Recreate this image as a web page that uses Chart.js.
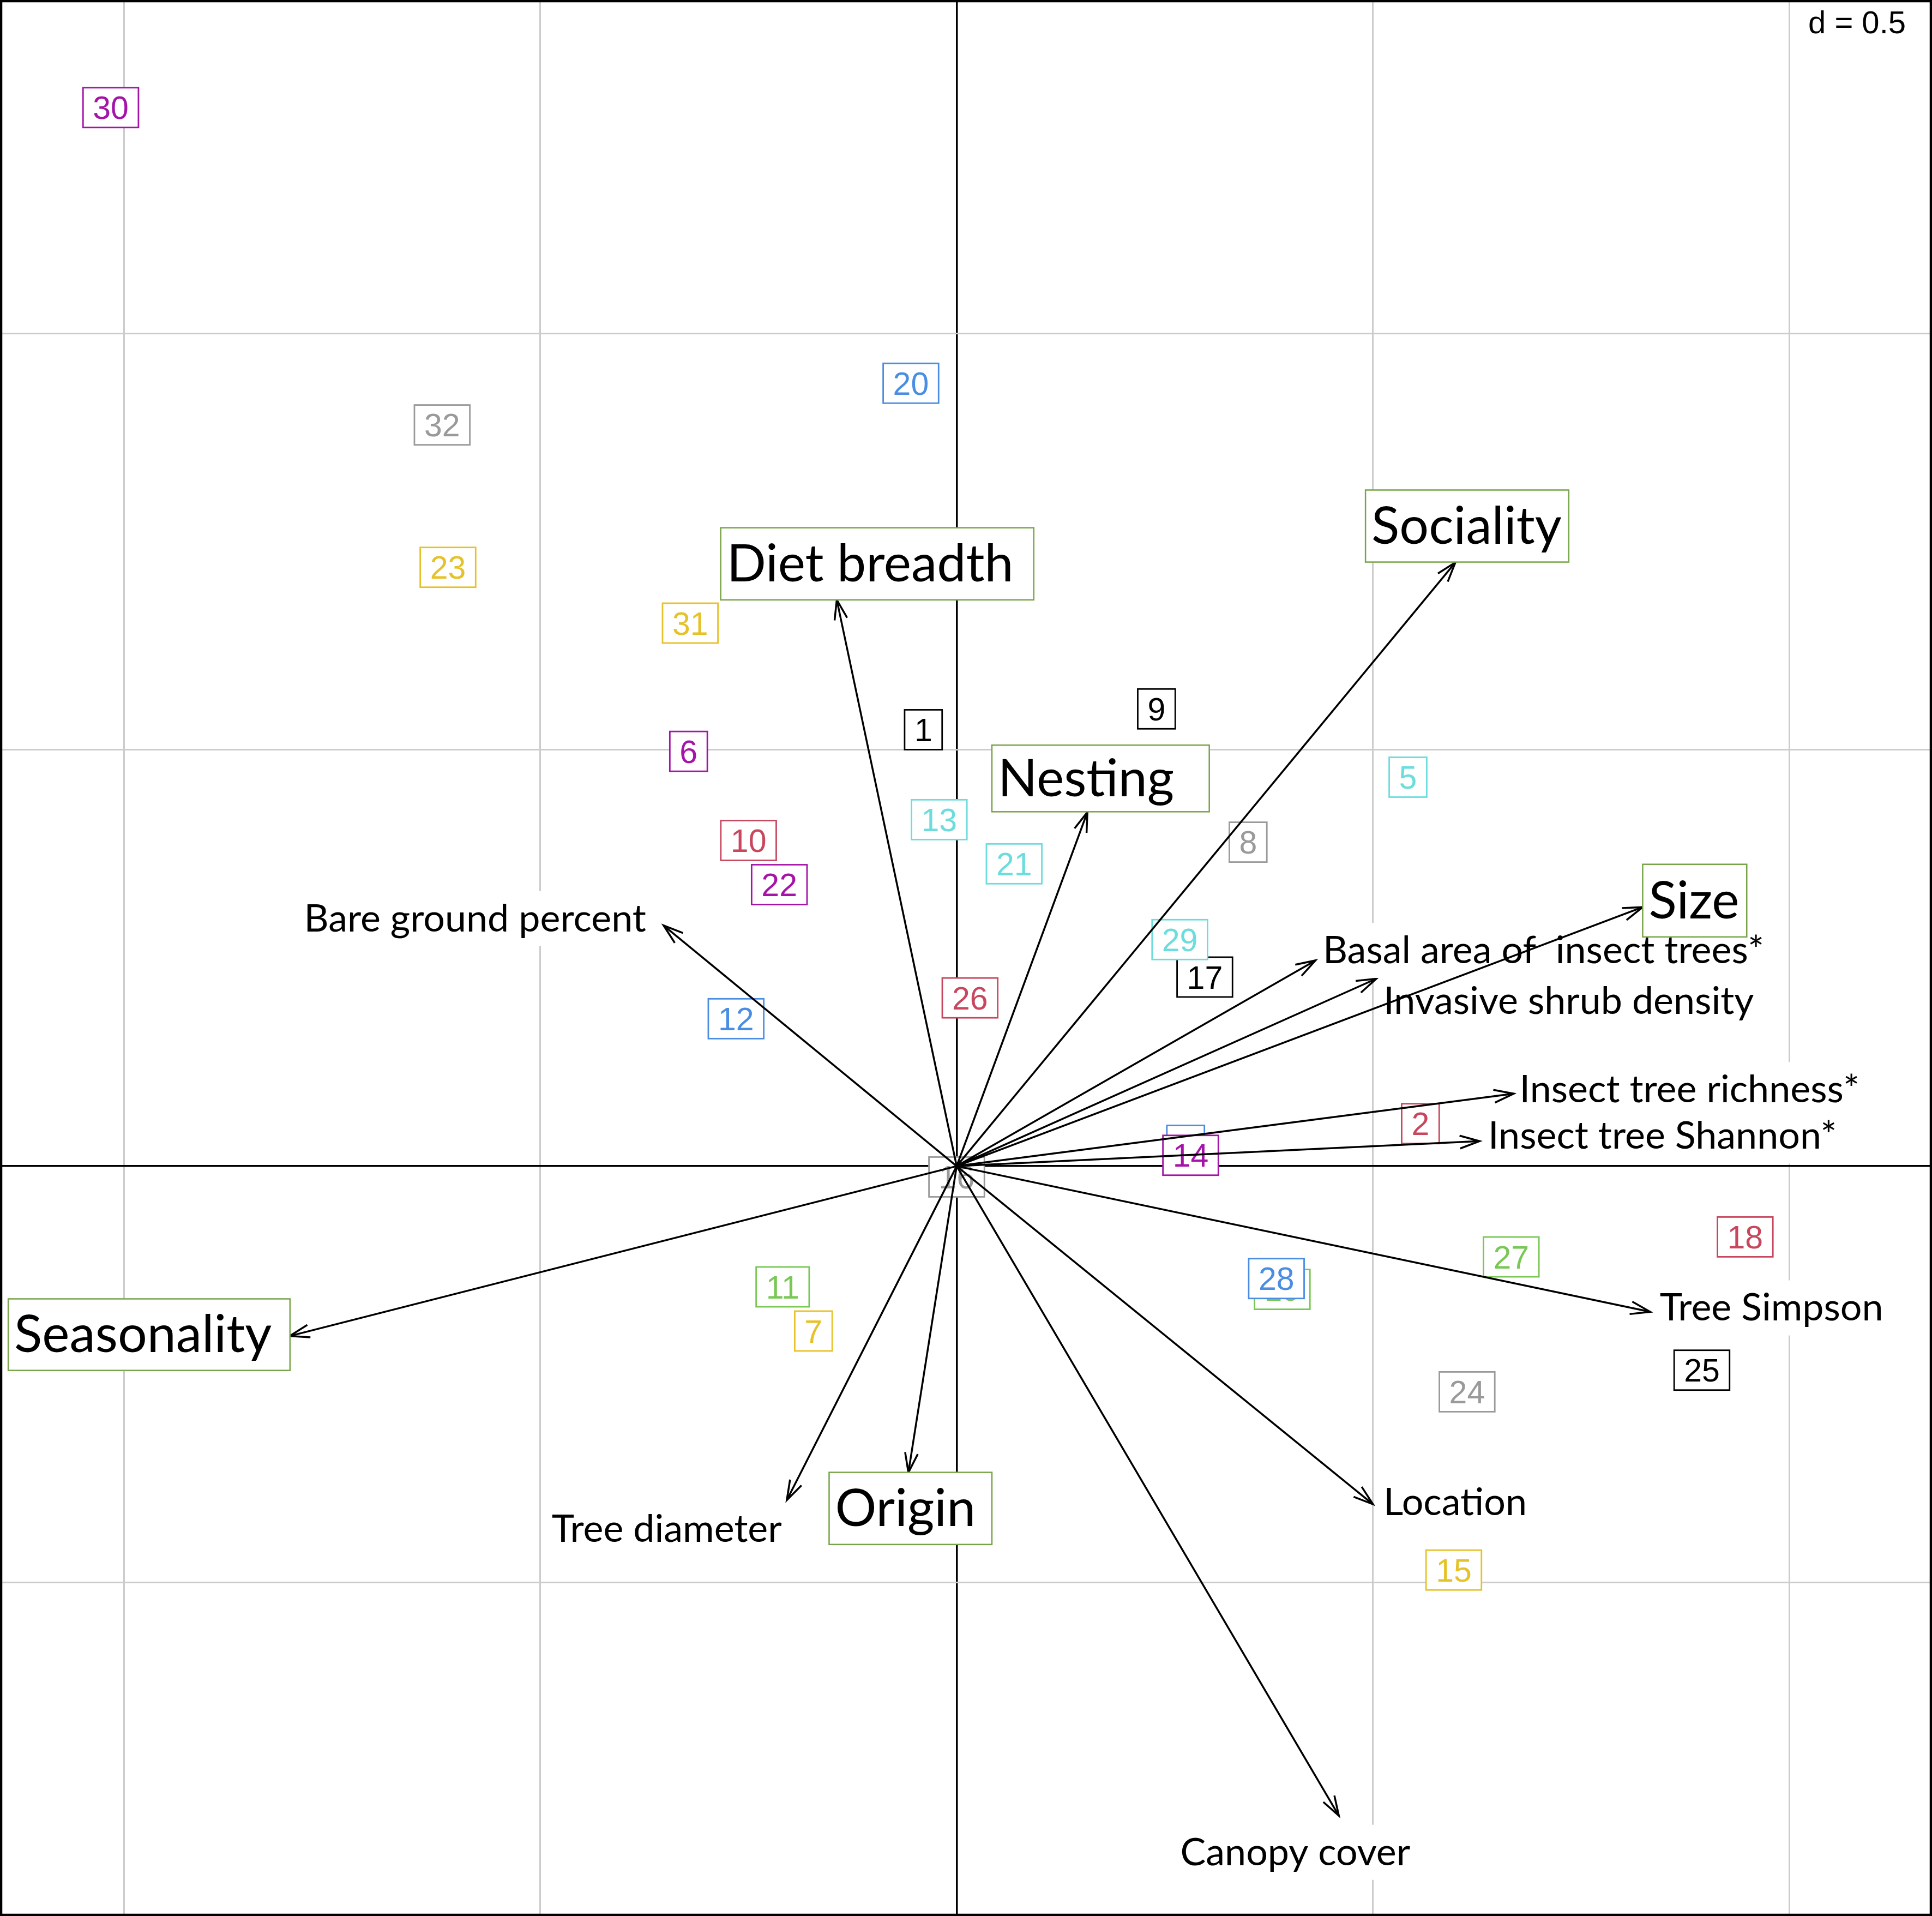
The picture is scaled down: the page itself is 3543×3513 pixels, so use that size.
<!DOCTYPE html>
<html>
<head>
<meta charset="utf-8">
<script src="https://cdn.jsdelivr.net/npm/chart.js@4.4.1/dist/chart.umd.min.js"></script>
<style>
  html, body { margin: 0; padding: 0; background: #fff; }
  #wrap { width: 3543px; height: 3513px; position: relative; }
</style>
</head>
<body>
<div id="wrap"><canvas id="biplot"></canvas></div>
<script>
// site scores on axis 1 / axis 2
const siteIds = [1, 2, 3, 4, 5, 6, 7, 8, 9, 10, 11, 12, 13, 14, 15, 16,
                 17, 18, 19, 20, 21, 22, 23, 24, 25, 26, 27, 28, 29, 30, 31, 32];
const siteX = [-0.040, 0.557, 0.384, 0.275, 0.542, -0.322, -0.172, 0.350, 0.240, -0.250, -0.209, -0.265, -0.021, 0.281, 0.597, 0.000,
               0.298, 0.947, 0.391, -0.055, 0.069, -0.213, -0.611, 0.613, 0.895, 0.016, 0.666, 0.384, 0.268, -1.016, -0.320, -0.618];
const siteY = [0.524, 0.051, -0.135, 0.025, 0.467, 0.498, -0.198, 0.389, 0.549, 0.391, -0.145, 0.177, 0.416, 0.013, -0.485, -0.013,
               0.227, -0.085, -0.148, 0.940, 0.363, 0.338, 0.719, -0.271, -0.245, 0.202, -0.109, -0.135, 0.272, 1.271, 0.652, 0.890];

// environmental variables (arrow tips)
const envNames = ['Bare ground percent', 'Tree diameter', 'Canopy cover', 'Location', 'Tree Simpson',
                  'Insect tree Shannon*', 'Insect tree richness*', 'Invasive shrub density', 'Basal area of  insect trees*'];
const envX = [-0.352, -0.204, 0.459, 0.500, 0.833, 0.628, 0.669, 0.504, 0.431];
const envY = [0.289, -0.401, -0.780, -0.406, -0.175, 0.030, 0.087, 0.225, 0.247];

// trait variables (arrow tips)
const traitNames = ['Diet breadth', 'Sociality', 'Nesting', 'Size', 'Seasonality', 'Origin'];
const traitX = [-0.144, 0.599, 0.157, 0.824, -0.801, -0.058];
const traitY = [0.680, 0.725, 0.425, 0.311, -0.204, -0.368];

const gridStep = 0.5;

// ---- label placement (data units) and styling ----
const envLabelPos = [
  {x: -0.373, y: 0.2975, align: 'right'},
  {x: -0.210, y: -0.4353, align: 'right'},
  {x: 0.4067, y: -0.8236, align: 'center'},
  {x: 0.5127, y: -0.4034, align: 'left'},
  {x: 0.8444, y: -0.1699, align: 'left'},
  {x: 0.6383, y: 0.0364, align: 'left'},
  {x: 0.6760, y: 0.0922, align: 'left'},
  {x: 0.5127, y: 0.1984, align: 'left'},
  {x: 0.4398, y: 0.2594, align: 'left'}
];
// [left, right, top, bottom]
const traitBox = [
  [-0.2834, 0.0926, 0.7665, 0.6799],
  [0.4910, 0.7344, 0.8118, 0.7253],
  [0.0423, 0.3034, 0.5055, 0.4255],
  [0.8239, 0.9489, 0.3624, 0.2752],
  [-1.1391, -0.8007, -0.1594, -0.2453],
  [-0.1532, 0.0423, -0.3677, -0.4543]
];

const sitePalette = ['#000000', '#C8475E', '#79C855', '#4A8DE2', '#6CDCDC', '#A514A8', '#E6C22A', '#9A9A9A'];
const siteFont = 59;
const envFont = 70;
const traitFont = 95;
const labelFamily = 'Lato, "Open Sans", sans-serif';
const numFamily = '"Liberation Sans", Arial, sans-serif';
const arrowWidth = 3.5;

function arrowData(xs, ys) {
  return xs.flatMap((x, i) => [{x: 0, y: 0}, {x: x, y: ys[i]}, {x: NaN, y: NaN}]);
}

function drawHead(ctx, x0, y0, x1, y1) {
  const len = 38, ang = 18 * Math.PI / 180;
  const a = Math.atan2(y0 - y1, x0 - x1);
  ctx.beginPath();
  ctx.moveTo(x1 + len * Math.cos(a + ang), y1 + len * Math.sin(a + ang));
  ctx.lineTo(x1, y1);
  ctx.lineTo(x1 + len * Math.cos(a - ang), y1 + len * Math.sin(a - ang));
  ctx.stroke();
}

const labelPlugin = {
  id: 'ordLabels',
  afterDatasetDraw(chart, args) {
    const ds = chart.data.datasets[args.index];
    const meta = args.meta;
    const ctx = chart.ctx;
    const sx = chart.scales.x, sy = chart.scales.y;
    ctx.save();
    if (ds.role === 'sites') {
      ctx.font = siteFont + 'px ' + numFamily;
      ctx.textAlign = 'center';
      ctx.textBaseline = 'alphabetic';
      ctx.lineWidth = 2.8;
      meta.data.forEach((pt, i) => {
        const txt = String(siteIds[i]);
        const col = sitePalette[(siteIds[i] - 1) % sitePalette.length];
        const w = ctx.measureText(txt).width + 36;
        const h = 73;
        ctx.fillStyle = '#fff';
        ctx.fillRect(pt.x - w / 2, pt.y - h / 2, w, h);
        ctx.strokeStyle = col;
        ctx.strokeRect(pt.x - w / 2, pt.y - h / 2, w, h);
        ctx.fillStyle = col;
        ctx.fillText(txt, pt.x, pt.y + 0.358 * siteFont);
      });
    } else if (ds.role === 'env' || ds.role === 'trait') {
      const ox = sx.getPixelForValue(0), oy = sy.getPixelForValue(0);
      ctx.strokeStyle = '#000';
      ctx.lineWidth = arrowWidth;
      ds.names.forEach((n, i) => {
        const tip = meta.data[3 * i + 1];
        drawHead(ctx, ox, oy, tip.x, tip.y);
      });
      if (ds.role === 'env') {
        ctx.font = envFont + 'px ' + labelFamily;
        ctx.textBaseline = 'alphabetic';
        ds.names.forEach((n, i) => {
          const p = envLabelPos[i];
          const px = sx.getPixelForValue(p.x), py = sy.getPixelForValue(p.y);
          const w = ctx.measureText(n).width;
          let left = px;
          if (p.align === 'right') left = px - w;
          if (p.align === 'center') left = px - w / 2;
          ctx.fillStyle = '#fff';
          ctx.fillRect(left - 6, py - 50, w + 12, 101);
          ctx.fillStyle = '#000';
          ctx.textAlign = 'left';
          ctx.fillText(n, left, py + 0.34 * envFont);
        });
      } else {
        ctx.font = traitFont + 'px ' + labelFamily;
        ctx.textBaseline = 'alphabetic';
        ctx.textAlign = 'left';
        ds.names.forEach((n, i) => {
          const b = traitBox[i];
          const l = sx.getPixelForValue(b[0]);
          const w0 = sx.getPixelForValue(b[1]) - l;
          const t = sy.getPixelForValue(b[2]);
          const h = sy.getPixelForValue(b[3]) - t;
          const tw = ctx.measureText(n).width;
          const w = Math.max(w0, tw + 24);
          ctx.fillStyle = '#fff';
          ctx.fillRect(l, t, w, h);
          ctx.strokeStyle = '#77A346';
          ctx.lineWidth = 2.5;
          ctx.strokeRect(l, t, w, h);
          ctx.fillStyle = '#000';
          ctx.fillText(n, l + 11, t + h / 2 + 0.34 * traitFont);
        });
      }
    }
    ctx.restore();
  },
  afterDraw(chart) {
    const ctx = chart.ctx;
    const a = chart.chartArea;
    ctx.save();
    ctx.font = '58px ' + numFamily;
    ctx.textAlign = 'right';
    ctx.textBaseline = 'alphabetic';
    ctx.fillStyle = '#000';
    ctx.fillText('d = 0.5', a.right - 48, a.top + 61);
    ctx.strokeStyle = '#000';
    ctx.lineWidth = 4.5;
    ctx.strokeRect(a.left + 2, a.top + 2, a.right - a.left - 4, a.bottom - a.top - 4);
    ctx.restore();
  }
};

const gridColor = c => (c.tick && c.tick.value === 0) ? '#000000' : '#CCCCCC';
const gridWidth = c => (c.tick && c.tick.value === 0) ? 3.5 : 3;

new Chart(document.getElementById('biplot'), {
  type: 'scatter',
  data: {
    datasets: [
      {
        role: 'sites', order: 3,
        data: siteX.map((x, i) => ({x: x, y: siteY[i]})),
        pointRadius: 0, showLine: false
      },
      {
        role: 'env', order: 2, names: envNames,
        data: arrowData(envX, envY),
        showLine: true, borderColor: '#000', borderWidth: arrowWidth, pointRadius: 0, spanGaps: false
      },
      {
        role: 'trait', order: 1, names: traitNames,
        data: arrowData(traitX, traitY),
        showLine: true, borderColor: '#000', borderWidth: arrowWidth, pointRadius: 0, spanGaps: false
      }
    ]
  },
  options: {
    responsive: true,
    maintainAspectRatio: false,
    devicePixelRatio: 1,
    animation: false,
    layout: { padding: 0, autoPadding: false },
    plugins: { legend: { display: false }, tooltip: { enabled: false } },
    events: [],
    scales: {
      x: {
        type: 'linear', min: -1.149, max: 1.1714,
        ticks: { display: false, stepSize: gridStep, includeBounds: false },
        grid: { color: gridColor, lineWidth: gridWidth, drawTicks: false },
        border: { display: false }
      },
      y: {
        type: 'linear', min: -0.9004, max: 1.4002,
        ticks: { display: false, stepSize: gridStep, includeBounds: false },
        grid: { color: gridColor, lineWidth: gridWidth, drawTicks: false },
        border: { display: false }
      }
    }
  },
  plugins: [labelPlugin]
});
</script>
</body>
</html>
